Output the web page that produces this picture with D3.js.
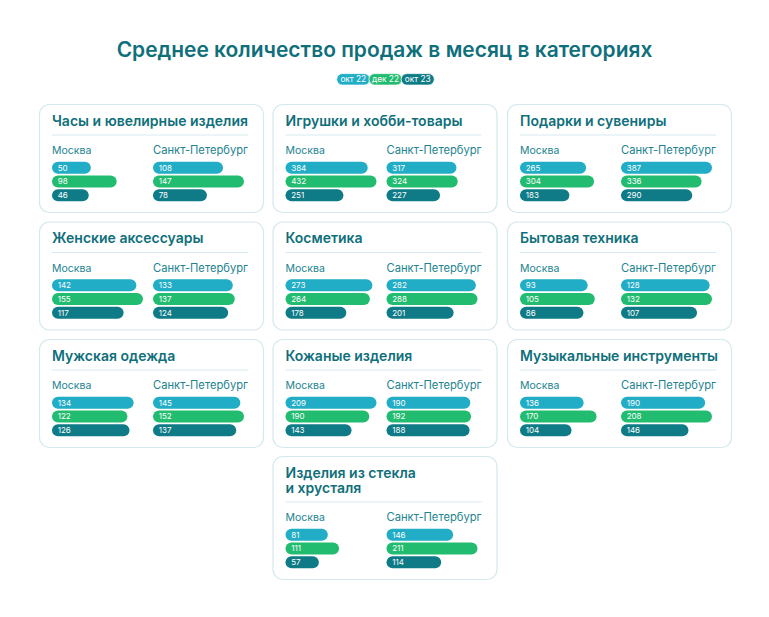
<!DOCTYPE html>
<html><head><meta charset="utf-8">
<script src="https://cdn.jsdelivr.net/npm/d3@7"></script>
<style>
html,body{margin:0;padding:0;background:#ffffff;}
svg{display:block;font-family:"Inter","Noto Sans",sans-serif;}
</style></head>
<body>
<svg id="chart" width="769" height="617"></svg>
<script>
const title = "Среднее количество продаж в месяц в категориях";
const periods = ["окт 22", "дек 22", "окт 23"];
const cities = ["Москва", "Санкт-Петербург"];
const categories = [
  "Часы и ювелирные изделия", "Игрушки и хобби-товары", "Подарки и сувениры",
  "Женские аксессуары", "Косметика", "Бытовая техника",
  "Мужская одежда", "Кожаные изделия", "Музыкальные инструменты",
  "Изделия из стекла\nи хрусталя"
];
const moscowOct22 = [50, 384, 265, 142, 273, 93, 134, 209, 136, 81];
const moscowDec22 = [98, 432, 304, 155, 264, 105, 122, 190, 170, 111];
const moscowOct23 = [46, 251, 183, 117, 178, 86, 126, 143, 104, 57];
const spbOct22 = [108, 317, 387, 133, 282, 128, 145, 190, 190, 146];
const spbDec22 = [147, 324, 336, 137, 288, 132, 152, 192, 208, 211];
const spbOct23 = [78, 227, 290, 124, 201, 107, 137, 188, 146, 114];

const colors = ["#21adc6", "#22bc70", "#0e7b87"];
const titleColor = "#0f6f7b";
const labelColor = "#228390";

const svg = d3.select("#chart");
const W = 769;

// fit text to a target width by adjusting font size
function fit(sel, target) {
  const w = sel.node().getComputedTextLength();
  const fs = parseFloat(sel.attr("font-size"));
  if (w > 0) sel.attr("font-size", fs * target / w);
}

const mt = svg.append("text").attr("x", W / 2).attr("y", 57)
  .attr("text-anchor", "middle").attr("font-size", 20).attr("font-weight", 600)
  .attr("fill", titleColor).text(title);
fit(mt, 536);

// legend
const pillW = 32.2, pillH = 11.5, legX0 = 336.7, legY = 73.6;
const leg = svg.append("g");
periods.forEach((p, i) => {
  const g = leg.append("g").attr("transform", `translate(${legX0 + i * pillW},${legY})`);
  g.append("rect").attr("width", pillW + 1).attr("height", pillH).attr("rx", pillH / 2)
    .attr("fill", colors[i]).attr("stroke", "#ffffff").attr("stroke-width", 0.8);
  g.append("text").attr("x", (pillW + 1) / 2).attr("y", pillH / 2 + 3)
    .attr("text-anchor", "middle").attr("font-size", 8.3).attr("fill", "#ffffff").text(p);
});

const colX = [39, 272.5, 507];
const rowY = [104, 221.5, 339, 456];
const cardW = 224;
const positions = [[0,0],[1,0],[2,0],[0,1],[1,1],[2,1],[0,2],[1,2],[2,2],[1,3]];

categories.forEach((cat, k) => {
  const [c, r] = positions[k];
  const lines = cat.split("\n");
  const extra = (lines.length - 1) * 15;
  const cardH = 108 + extra;
  const g = svg.append("g").attr("transform", `translate(${colX[c]},${rowY[r]})`);
  g.append("rect").attr("x", 0.5).attr("y", 0.5).attr("width", cardW).attr("height", cardH)
    .attr("rx", 10).attr("fill", "#ffffff").attr("stroke", "#d4e8ee").attr("stroke-width", 1.2);
  const t = g.append("text").attr("x", 13).attr("y", 21.5).attr("font-size", 14)
    .attr("font-weight", 600).attr("fill", titleColor);
  lines.forEach((ln, i) => t.append("tspan").attr("x", 13).attr("dy", i === 0 ? 0 : 15).text(ln));
  if (k === 0) fit(t, 196);
  g.append("line").attr("x1", 13).attr("x2", 209).attr("y1", 31 + extra).attr("y2", 31 + extra)
    .attr("stroke", "#d7e9ef").attr("stroke-width", 1.2);

  const series = [
    [moscowOct22[k], moscowDec22[k], moscowOct23[k]],
    [spbOct22[k], spbDec22[k], spbOct23[k]]
  ];
  const maxV = d3.max(series.flat());
  const x = d3.scaleLinear().domain([0, maxV]).range([12, 91]);
  const y = d3.scaleBand().domain(periods).range([57.8 + extra, 57.8 + extra + 39.5]).paddingInner(0.12);
  cities.forEach((city, ci) => {
    const cx = 13 + ci * 101;
    const ct = g.append("text").attr("x", cx).attr("y", 50 + extra).attr("font-size", 10.5)
      .attr("fill", labelColor).text(city);
    if (ci === 1) fit(ct, 95);
    series[ci].forEach((v, pi) => {
      const by = y(periods[pi]);
      const bh = y.bandwidth();
      g.append("rect").attr("x", cx).attr("y", by).attr("width", x(v)).attr("height", bh)
        .attr("rx", bh / 2).attr("fill", colors[pi]);
      g.append("text").attr("x", cx + 5.7).attr("y", by + bh / 2 + 2.9).attr("font-size", 8)
        .attr("fill", "#ffffff").text(v);
    });
  });
});
</script>
</body></html>
